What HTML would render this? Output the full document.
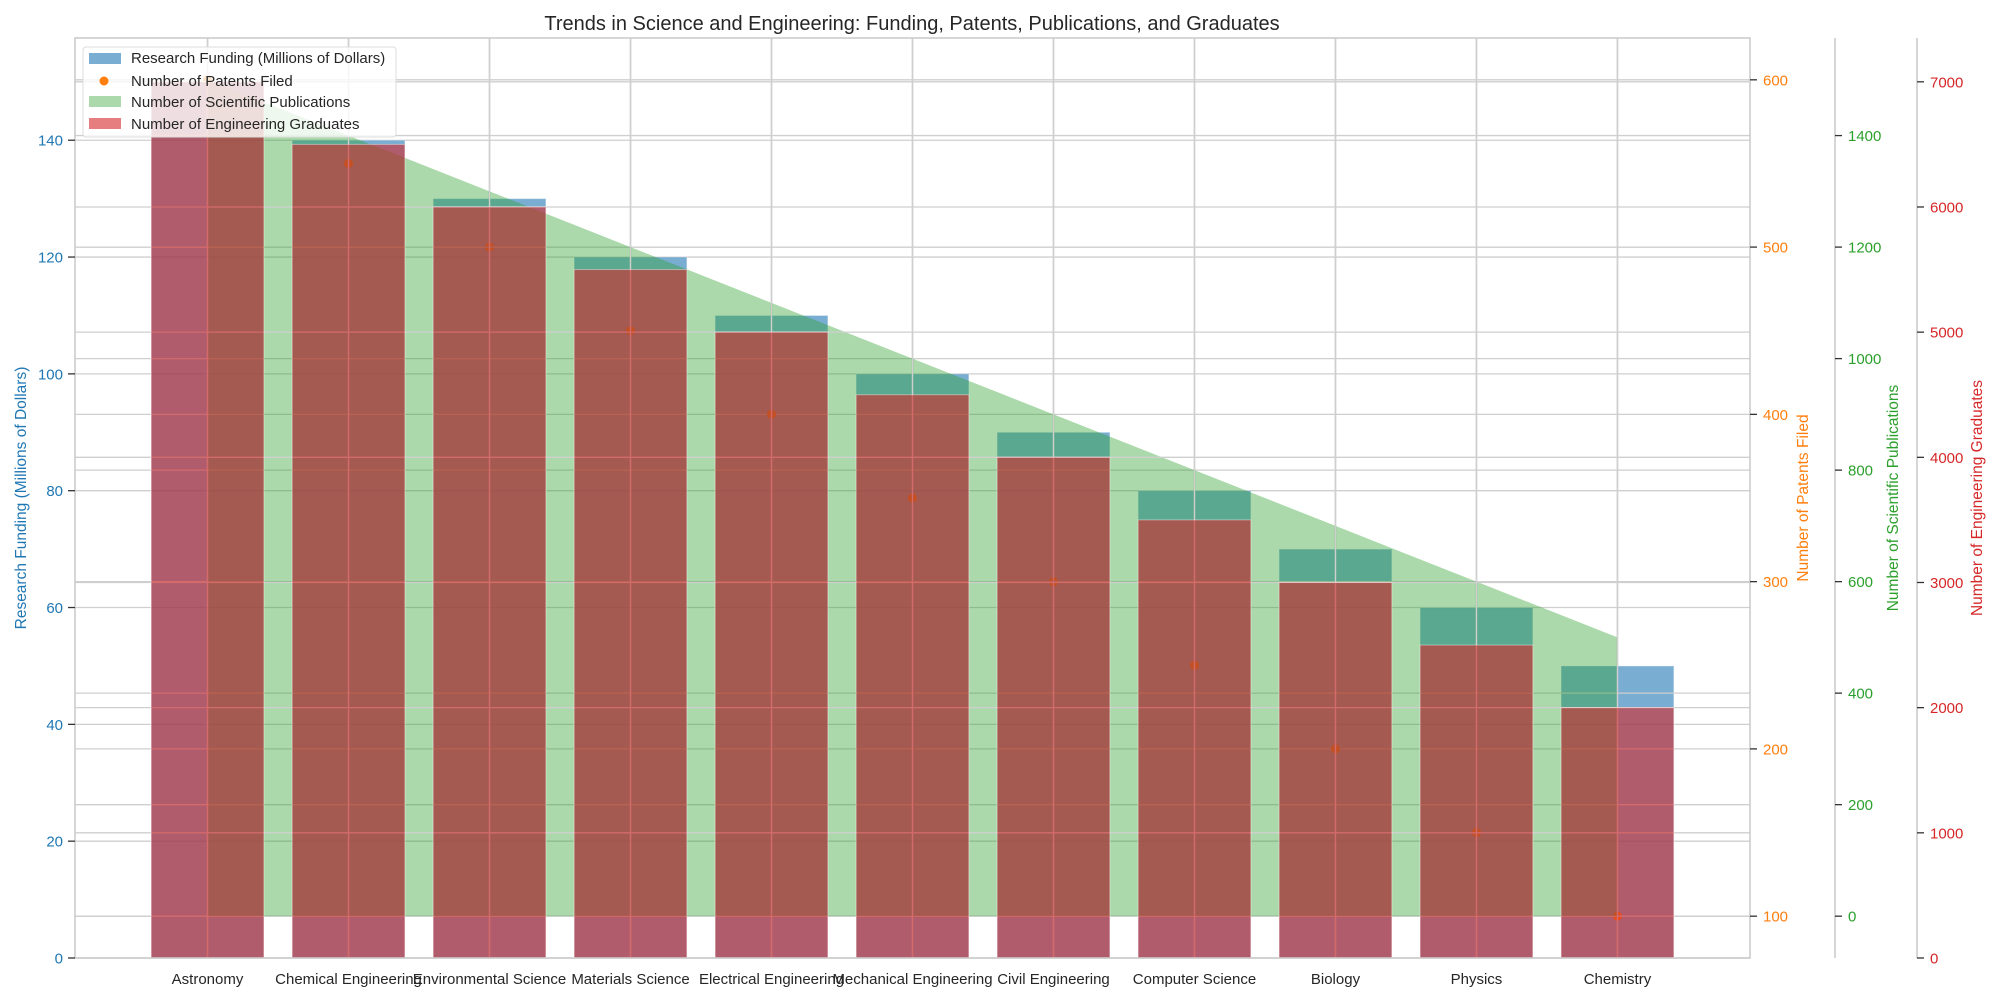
<!DOCTYPE html>
<html><head><meta charset="utf-8"><style>
body{margin:0;background:#fff;}
svg{display:block;font-family:"Liberation Sans",Arial,sans-serif;}
</style></head><body>
<svg id="chart" width="2000" height="1000" viewBox="0 0 2000 1000" xmlns="http://www.w3.org/2000/svg"></svg>
<script>
const categories=["Astronomy","Chemical Engineering","Environmental Science","Materials Science","Electrical Engineering","Mechanical Engineering","Civil Engineering","Computer Science","Biology","Physics","Chemistry"];
const funding=[150,140,130,120,110,100,90,80,70,60,50];
const patents=[600,550,500,450,400,350,300,250,200,150,100];
const publications=[1500,1400,1300,1200,1100,1000,900,800,700,600,500];
const graduates=[7000,6500,6000,5500,5000,4500,4000,3500,3000,2500,2000];
const fundingTicks=[0,20,40,60,80,100,120,140];
const patentTicks=[100,200,300,400,500,600];
const pubTicks=[0,200,400,600,800,1000,1200,1400];
const gradTicks=[0,1000,2000,3000,4000,5000,6000,7000];

const L=75,R=1750,T=38,B=958;
const svg=document.getElementById('chart');
const NS='http://www.w3.org/2000/svg';
function mk(tag,attrs,parent){const e=document.createElementNS(NS,tag);for(const k in attrs)e.setAttribute(k,attrs[k]);(parent||svg).appendChild(e);return e;}
const n=categories.length;
const xmin=-0.94,xmax=(n-1)+0.94;
const xs=i=>L+(i-xmin)/(xmax-xmin)*(R-L);
const step=(R-L)/(xmax-xmin);
function lin(d0,d1){return v=>B-(v-d0)/(d1-d0)*(B-T);}
const y1=lin(0,157.5),y2=lin(75,625),y3=lin(-75,1575),y4=lin(0,7350);
const GRID='#cfcfcf';
function hgrid(ticks,sc,name){
  const g=mk('g',{});
  
  
  ticks.forEach(t=>mk('line',{x1:L,x2:R,y1:sc(t),y2:sc(t),stroke:GRID,'stroke-width':1.3},g));
  categories.forEach((c,i)=>mk('line',{x1:xs(i),x2:xs(i),y1:T,y2:B,stroke:GRID,'stroke-width':1.3},g));
}
hgrid(fundingTicks,y1,'funding-grid');
categories.forEach((c,i)=>{
  const r=mk('rect',{x:xs(i)-0.4*step,width:0.8*step,y:y1(funding[i]),height:y1(0)-y1(funding[i]),fill:'#1f77b4','fill-opacity':0.6,stroke:'#fff','stroke-opacity':0.4});
  
  
});
hgrid(patentTicks,y2,'patents-grid');
categories.forEach((c,i)=>{
  const p=mk('circle',{cx:xs(i),cy:y2(patents[i]),r:4.5,fill:'#ff7f0e'});
  
  
});
hgrid(pubTicks,y3,'publications-grid');
let d='M'+xs(0)+','+y3(0);
publications.forEach((v,i)=>{d+=' L'+xs(i)+','+y3(v);});
d+=' L'+xs(n-1)+','+y3(0)+' Z';
const area=mk('path',{d:d,fill:'#2ca02c','fill-opacity':0.4});


hgrid(gradTicks,y4,'graduates-grid');
categories.forEach((c,i)=>{
  const r=mk('rect',{x:xs(i)-0.4*step,width:0.8*step,y:y4(graduates[i]),height:y4(0)-y4(graduates[i]),fill:'#d62728','fill-opacity':0.6,stroke:'#fff','stroke-opacity':0.4});
  
  
});
const SP='#cccccc';
mk('rect',{x:L,y:T,width:R-L,height:B-T,fill:'none',stroke:SP,'stroke-width':1.6});
mk('line',{x1:1835,x2:1835,y1:T,y2:B,stroke:SP,'stroke-width':1.6});
mk('line',{x1:1917,x2:1917,y1:T,y2:B,stroke:SP,'stroke-width':1.6});
const FS=15;
function axisTicks(ticks,sc,x,side,color,name){
  ticks.forEach(t=>{
    const y=sc(t);
    if(side<0){mk('line',{x1:x-7,x2:x,y1:y,y2:y,stroke:'#333','stroke-width':1.3});}
    else{mk('line',{x1:x,x2:x+7,y1:y,y2:y,stroke:'#333','stroke-width':1.3});}
    const tx=mk('text',{x:side<0?x-12:x+13,y:y+5.5,fill:color,'font-size':FS,'text-anchor':side<0?'end':'start'});
    tx.textContent=t;
    
    
  });
}
axisTicks(fundingTicks,y1,L,-1,'#1f77b4','funding');
axisTicks(patentTicks,y2,R,1,'#ff7f0e','patents');
axisTicks(pubTicks,y3,1835,1,'#2ca02c','publications');
axisTicks(gradTicks,y4,1917,1,'#d62728','graduates');
categories.forEach((c,i)=>{
  const t=mk('text',{x:xs(i),y:984,'font-size':FS,fill:'#262626','text-anchor':'middle'});
  t.textContent=c;
  
  
});
</script>
<svg width="2000" height="1000" style="position:absolute;left:0;top:0" font-family="Liberation Sans, Arial, sans-serif">
<text x="912" y="30" text-anchor="middle" font-size="20" fill="#262626">Trends in Science and Engineering: Funding, Patents, Publications, and Graduates</text>
<text transform="translate(26,498) rotate(-90)" text-anchor="middle" font-size="15.5" fill="#1f77b4">Research Funding (Millions of Dollars)</text>
<text transform="translate(1808,498) rotate(-90)" text-anchor="middle" font-size="15.5" fill="#ff7f0e">Number of Patents Filed</text>
<text transform="translate(1898,498) rotate(-90)" text-anchor="middle" font-size="15.5" fill="#2ca02c">Number of Scientific Publications</text>
<text transform="translate(1982,498) rotate(-90)" text-anchor="middle" font-size="15.5" fill="#d62728">Number of Engineering Graduates</text>
<g>
<rect x="83" y="47" width="313" height="90" rx="3" fill="#fff" fill-opacity="0.8" stroke="#dddddd"/>
<rect x="89" y="53" width="32" height="11" fill="#1f77b4" fill-opacity="0.6"/>
<text x="131" y="63" font-size="15" fill="#262626">Research Funding (Millions of Dollars)</text>
<circle cx="104" cy="81" r="4.5" fill="#ff7f0e"/>
<text x="131" y="86" font-size="15" fill="#262626">Number of Patents Filed</text>
<rect x="89" y="96" width="32" height="11" fill="#2ca02c" fill-opacity="0.4"/>
<text x="131" y="107" font-size="15" fill="#262626">Number of Scientific Publications</text>
<rect x="89" y="118" width="32" height="11" fill="#d62728" fill-opacity="0.6"/>
<text x="131" y="129" font-size="15" fill="#262626">Number of Engineering Graduates</text>
</g>
</svg>
</body></html>
